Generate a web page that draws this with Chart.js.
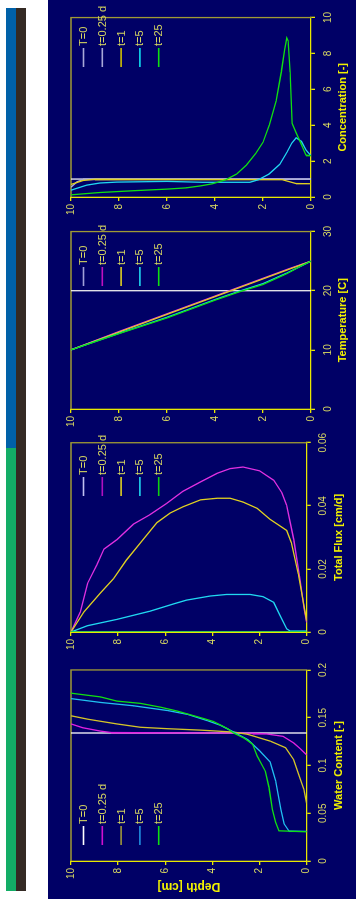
<!DOCTYPE html>
<html>
<head>
<meta charset="utf-8">
<script src="https://cdn.jsdelivr.net/npm/chart.js@4.4.0/dist/chart.umd.min.js"></script>
<style>
  html, body { margin: 0; padding: 0; background: #fff; }
  body { width: 356px; height: 906px; position: relative; overflow: hidden; }
  .strip { position: absolute; }
  #stripBlue { left: 6px; top: 8px; width: 10px; height: 440px; background: #0061a8; }
  #stripGreen { left: 6px; top: 448px; width: 10px; height: 443px; background: #13ad66; }
  #stripDark { left: 16px; top: 8px; width: 10px; height: 883px; background: #342a24; }
  #navy { position: absolute; left: 48px; top: 0; width: 308px; height: 899px; background: #000066; }
  /* the four panels are laid out landscape and turned a quarter to the left */
  #sheet { position: absolute; left: 48px; top: 906px; width: 906px; height: 308px;
           transform-origin: 0 0; transform: rotate(-90deg); }
  #sheet canvas { position: absolute; top: 0; }
</style>
</head>
<body>
<div class="strip" id="stripBlue"></div>
<div class="strip" id="stripGreen"></div>
<div class="strip" id="stripDark"></div>
<div id="navy"></div>
<div id="sheet">
  <canvas id="wc"></canvas>
  <canvas id="flux"></canvas>
  <canvas id="temp"></canvas>
  <canvas id="conc"></canvas>
</div>
<script>
// legend labels shared by every panel
const timeLabels = ['T=0', 't=0.25 d', 't=1', 't=5', 't=25'];

// profiles as [depth (cm), value] pairs

// water content [-]
const wcT0 = [[10, 0.134], [0, 0.134]];
const wcT025 = [[10, 0.1435], [9.5, 0.1395], [8.75, 0.136], [8.3, 0.1345], [6, 0.134], [4, 0.134],
  [2.3, 0.1338], [1.7, 0.133], [1.0, 0.1305], [0.55, 0.1235], [0.25, 0.117], [0, 0.111]];
const wcT1 = [[10, 0.152], [9.3, 0.1485], [8.05, 0.1435], [7.05, 0.140], [5.9, 0.1385], [4.5, 0.137],
  [3.1, 0.135], [2.5, 0.1326], [1.55, 0.1255], [0.9, 0.1186], [0.55, 0.106], [0.33, 0.090],
  [0.12, 0.075], [0, 0.06]];
const wcT5 = [[10, 0.170], [8.75, 0.166], [7.35, 0.1625], [5.9, 0.1575], [5.05, 0.1535], [4.2, 0.1468],
  [3.65, 0.142], [3.1, 0.135], [2.5, 0.127], [2.0, 0.1155], [1.55, 0.1036], [1.32, 0.084],
  [1.1, 0.054], [0.96, 0.039], [0.75, 0.0313], [0, 0.031]];
const wcT25 = [[10, 0.1757], [8.75, 0.1718], [8.05, 0.1674], [7.05, 0.165], [6.2, 0.161], [5.5, 0.157],
  [4.35, 0.149], [3.95, 0.146], [3.35, 0.1385], [3.1, 0.134], [2.65, 0.1286], [2.3, 0.1225],
  [2.1, 0.110], [1.75, 0.0937], [1.6, 0.077], [1.46, 0.054], [1.32, 0.0405], [1.18, 0.0316],
  [0, 0.0306]];

// total flux [cm/d]
const fxT0 = [[10, 0], [0, 0]];
const fxT025 = [[10, 0], [9.6, 0.0064], [9.3, 0.0154], [8.9, 0.0213], [8.6, 0.0263], [8.05, 0.0293],
  [7.35, 0.0342], [6.65, 0.0372], [5.95, 0.0407], [5.25, 0.0446], [4.5, 0.0476], [3.8, 0.0503],
  [3.25, 0.0518], [2.7, 0.0523], [2.0, 0.0511], [1.4, 0.0481], [1.05, 0.0441], [0.85, 0.0402],
  [0.55, 0.0293], [0.28, 0.0164], [0.11, 0.0074], [0, 0.003]];
const fxT1 = [[10, 0], [9.45, 0.0064], [8.75, 0.0124], [8.2, 0.0169], [7.65, 0.0228], [7.05, 0.0283],
  [6.35, 0.0347], [5.8, 0.0377], [5.25, 0.0397], [4.5, 0.0419], [3.8, 0.0424], [3.25, 0.0424],
  [2.7, 0.0412], [2.1, 0.0392], [1.55, 0.0357], [1.15, 0.0337], [0.85, 0.0322], [0.65, 0.0283],
  [0.35, 0.0183], [0.14, 0.0094], [0, 0.0035]];
const fxT5 = [[10, 0], [9.3, 0.002], [8.05, 0.004], [6.65, 0.0066], [5.65, 0.0089], [5.1, 0.0101],
  [4.1, 0.0114], [3.4, 0.0119], [2.4, 0.0119], [1.85, 0.0112], [1.4, 0.0094], [1.15, 0.0055],
  [0.85, 0.001], [0.7, 0.0003], [0, 0.0003]];
const fxT25 = [[10, 0], [0, 0]];

// temperature [C]
const tpT0 = [[10, 20], [0, 20]];
const tpT025 = [[10, 10], [8, 13.1], [6, 16.1], [4, 19.1], [2, 22.1], [1, 23.6], [0, 25]];
const tpT1 = [[10, 10], [8, 13.0], [6, 16.0], [4, 19.0], [2, 22.0], [1, 23.5], [0, 25]];
const tpT5 = [[10, 10], [8, 12.8], [6, 15.5], [4, 18.5], [3, 19.9], [2, 21.2], [1, 23.0], [0, 25]];
const tpT25 = [[10, 10], [8, 12.75], [6, 15.4], [4, 18.4], [3, 19.8], [2, 21.05], [1, 22.9],
  [0.5, 24.0], [0, 25]];

// concentration [-]
const cnT0 = [[10, 1.0], [0, 1.0]];
const cnT025 = [[10, 0.55], [9.75, 0.85], [9.5, 0.97], [9, 1.0], [0, 1.0]];
const cnT1 = [[10, 0.7], [9.5, 0.92], [9, 0.99], [1.3, 0.98], [1.2, 0.95], [0.62, 0.75], [0, 0.74]];
const cnT5 = [[10, 0.38], [9.35, 0.66], [8.8, 0.78], [8.1, 0.83], [6, 0.87], [4.5, 0.82], [3, 0.82],
  [2.55, 0.82], [2.2, 0.96], [1.75, 1.28], [1.3, 1.82], [1.0, 2.5], [0.8, 3.0], [0.62, 3.3],
  [0.4, 3.1], [0.2, 2.6], [0, 2.3]];
const cnT25 = [[10, 0.12], [8.8, 0.25], [7.4, 0.35], [6, 0.44], [5.2, 0.51], [4.6, 0.62], [4.1, 0.74],
  [3.55, 0.96], [3.1, 1.28], [2.7, 1.77], [2.3, 2.43], [2.0, 3.05], [1.73, 4.02], [1.45, 5.35],
  [1.24, 6.95], [1.1, 8.2], [1.01, 8.87], [0.95, 8.7], [0.87, 6.95], [0.79, 4.1], [0.62, 3.58],
  [0.41, 2.96], [0.21, 2.34], [0, 2.3]];

const YELLOW = '#e8e800';
const OLIVE = '#a09a34';
const TICK_TEXT = '#d8d860';
const NARROW = "'Liberation Sans Narrow', 'Arial Narrow', 'Liberation Sans', Arial, sans-serif";
const SANS = "'Liberation Sans', Arial, sans-serif";
const SHEET_H = 308;

// dim top and right edges of the plot box
const frameEdges = {
  id: 'frameEdges',
  beforeDatasetsDraw(chart) {
    const { ctx, chartArea: a } = chart;
    ctx.save();
    ctx.strokeStyle = OLIVE;
    ctx.lineWidth = 1.3;
    ctx.beginPath();
    ctx.moveTo(a.left, a.top);
    ctx.lineTo(a.right, a.top);
    ctx.lineTo(a.right, a.bottom);
    ctx.stroke();
    ctx.restore();
  }
};

// small key inside the plot box
const insideKey = {
  id: 'insideKey',
  afterDatasetsDraw(chart, args, opts) {
    const { ctx, chartArea: a } = chart;
    ctx.save();
    ctx.font = '11px ' + NARROW;
    ctx.textBaseline = 'middle';
    ctx.textAlign = 'left';
    chart.data.datasets.forEach((ds, i) => {
      const y = a.top + 12.5 + i * 18.8;
      const x = a.left + opts.x;
      ctx.strokeStyle = opts.colors[i];
      ctx.lineWidth = 1.6;
      ctx.beginPath();
      ctx.moveTo(x, y);
      ctx.lineTo(x + 19, y);
      ctx.stroke();
      ctx.fillStyle = TICK_TEXT;
      ctx.fillText(ds.label, x + 21, y + 0.5);
    });
    ctx.restore();
  }
};

function fmt(v) {
  return String(+v.toFixed(3));
}

function makePanel(id, p) {
  const canvas = document.getElementById(id);
  const canvasLeft = p.left - p.axisW;
  const width = p.right - canvasLeft + 4;
  canvas.width = width;
  canvas.height = SHEET_H;
  canvas.style.left = canvasLeft + 'px';
  canvas.style.width = width + 'px';
  canvas.style.height = SHEET_H + 'px';

  const xAxisH = SHEET_H - p.bottom;
  const titlePad = SHEET_H - (p.bottom + 32) - 6.6;

  const datasets = p.series.map((s, i) => ({
    label: timeLabels[i],
    data: s.map(([d, v]) => ({ x: v, y: d })),
    borderColor: p.lineColors[i],
    borderWidth: 1.3,
    pointRadius: 0,
    showLine: true,
    fill: false,
    tension: 0,
    order: p.series.length - i
  }));

  return new Chart(canvas, {
    type: 'scatter',
    data: { datasets },
    options: {
      responsive: false,
      animation: false,
      events: [],
      layout: { padding: { left: 0, top: 23, right: 4, bottom: 0 } },
      plugins: {
        legend: { display: false },
        tooltip: { enabled: false },
        insideKey: { x: p.keyX, colors: p.keyColors }
      },
      scales: {
        x: {
          type: 'linear',
          min: p.min, max: p.max,
          afterFit: s => { s.height = xAxisH; },
          afterBuildTicks: s => { s.ticks = p.ticks.map(v => ({ value: v })); },
          ticks: { callback: fmt, color: TICK_TEXT, padding: 7, maxRotation: 0,
                   font: { size: 10, family: NARROW } },
          grid: { display: true, drawOnChartArea: false, drawTicks: true, tickLength: 4,
                  color: YELLOW, lineWidth: 1.3 },
          border: { display: true, color: YELLOW, width: 1.3 },
          title: { display: true, text: p.title, color: '#f0f000',
                   font: { size: 11, weight: 'bold', family: SANS },
                   padding: { top: 0, bottom: titlePad } }
        },
        y: {
          type: 'linear',
          min: 0, max: 10,
          afterFit: s => { s.width = p.axisW; },
          afterBuildTicks: s => { s.ticks = [0, 2, 4, 6, 8, 10].map(v => ({ value: v })); },
          ticks: { color: TICK_TEXT, padding: 3, font: { size: 10, family: NARROW } },
          grid: { display: true, drawOnChartArea: false, drawTicks: true, tickLength: 4,
                  color: YELLOW, lineWidth: 1.3 },
          border: { display: true, color: YELLOW, width: 1.3 },
          title: { display: !!p.depthTitle, text: 'Depth [cm]', color: '#f0f000',
                   font: { size: 12, weight: 'bold', family: SANS },
                   padding: { top: 12, bottom: 0 } }
        }
      }
    },
    plugins: [frameEdges, insideKey]
  });
}

makePanel('wc', {
  left: 45, right: 246, bottom: 258.7, axisW: 45, depthTitle: true,
  min: 0, max: 0.2, ticks: [0, 0.05, 0.1, 0.15, 0.2], title: 'Water Content [-]',
  series: [wcT0, wcT025, wcT1, wcT5, wcT25],
  lineColors: ['#ffffff', '#e020e0', '#d4c428', '#20c0f0', '#10e010'],
  keyX: 16, keyColors: ['#ffffff', '#d010d0', '#a09838', '#2090e0', '#10e010']
});

makePanel('flux', {
  left: 274, right: 476, bottom: 258.7, axisW: 40,
  min: 0, max: 0.06, ticks: [0, 0.02, 0.04, 0.06], title: 'Total Flux [cm/d]',
  series: [fxT0, fxT025, fxT1, fxT5, fxT25],
  lineColors: ['#c8c8f0', '#e030e0', '#e0d020', '#20d8f0', '#10e010'],
  keyX: 136, keyColors: ['#c0c0f0', '#b010c0', '#e0d020', '#20d8f0', '#10d010']
});

makePanel('temp', {
  left: 497, right: 683, bottom: 263, axisW: 40,
  min: 0, max: 30, ticks: [0, 10, 20, 30], title: 'Temperature [C]',
  series: [tpT0, tpT025, tpT1, tpT5, tpT25],
  lineColors: ['#f0f0f0', '#e030e0', '#e0d020', '#20d8f0', '#10e010'],
  keyX: 123, keyColors: ['#a0a0d8', '#c010c0', '#e0d020', '#20d8f0', '#10e010']
});

makePanel('conc', {
  left: 709, right: 897, bottom: 263, axisW: 40,
  min: 0, max: 10, ticks: [0, 2, 4, 6, 8, 10], title: 'Concentration [-]',
  series: [cnT0, cnT025, cnT1, cnT5, cnT25],
  lineColors: ['#f0f0f8', '#b0b0e0', '#e0d020', '#20d8f0', '#10e010'],
  keyX: 130, keyColors: ['#a8a8d8', '#a8a8d8', '#d0c000', '#10e0f0', '#10e010']
});
</script>
</body>
</html>
